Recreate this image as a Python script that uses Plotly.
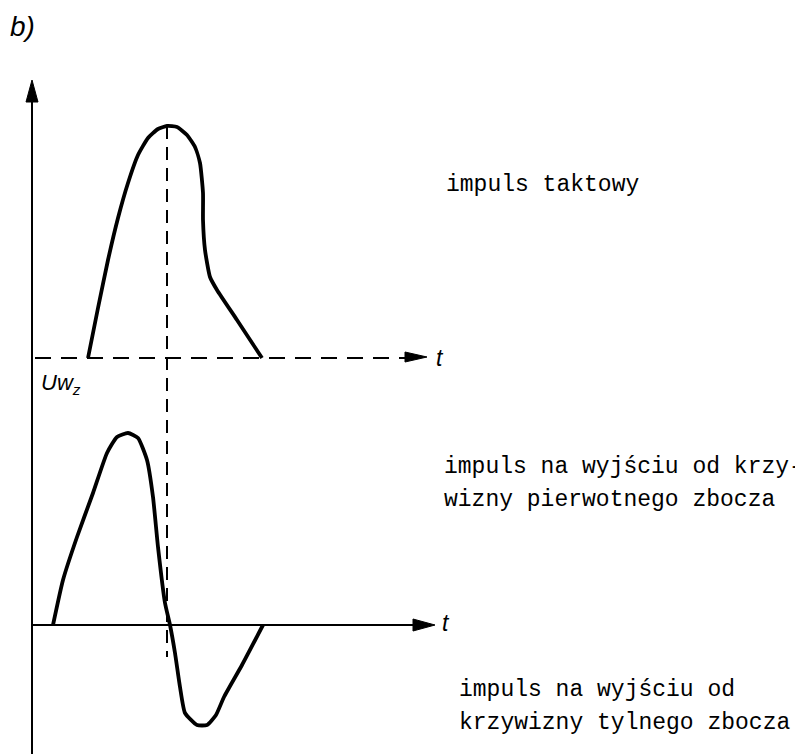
import plotly.graph_objects as go

# ---- data (t in diagram units from the vertical axis, u = amplitude above each baseline) ----
# upper panel: clock pulse ("impuls taktowy"), baseline = U_wz threshold
t_clock = [56, 66, 76, 86, 96, 106, 116, 126, 135, 145, 155, 163, 168, 171, 171, 173, 178, 185, 205, 230]
u_clock = [0, 50, 98, 140, 175, 203, 220, 229, 232, 231, 223, 211, 195, 165, 138, 108, 81, 68, 38, 0]

# lower panel: output pulse (positive lobe from leading edge, negative from trailing edge)
t_out = [21, 31, 45, 61, 75, 85, 96, 106, 115, 121, 126, 133, 138, 143, 148, 153, 165, 175, 184, 192, 210, 231]
u_out = [0, 45, 88, 132, 172, 188, 192, 187, 165, 128, 78, 22, 0, -28, -62, -88, -100, -100, -90, -72, -40, 0]

t_peak = 135          # time of clock-pulse maximum (dashed marker)
t_axis_end = 403      # end of the time axes

labels_right = [
    "impuls taktowy",
    "impuls na wyjściu od krzy-",
    "wizny pierwotnego zbocza",
    "impuls na wyjściu od",
    "krzywizny tylnego zbocza",
]

# ---- figure ----
OFF = 8            # page body margin
W, H = 803 - OFF, 754 - OFF
X0 = 32            # pixel position of vertical axis
Y_UP = 358         # pixel of upper baseline
Y_LO = 625         # pixel of lower baseline

fig = go.Figure()
black = "#000000"

fig.add_trace(go.Scatter(x=t_clock, y=u_clock, mode="lines", yaxis="y",
                         line=dict(color=black, width=3.8, shape="spline", smoothing=0.5),
                         hoverinfo="skip", showlegend=False))
fig.add_trace(go.Scatter(x=t_out, y=u_out, mode="lines", yaxis="y2",
                         line=dict(color=black, width=3.8, shape="spline", smoothing=0.5),
                         hoverinfo="skip", showlegend=False))

shapes = []
# vertical axis
shapes.append(dict(type="line", xref="x", yref="y", x0=0, x1=0, y0=Y_UP - 760, y1=Y_UP - 100,
                   line=dict(color=black, width=2)))
shapes.append(dict(type="path", xref="x", yref="y",
                   path=f"M 0 {Y_UP-80} L -6 {Y_UP-102} L 6 {Y_UP-102} Z",
                   fillcolor=black, line=dict(color=black, width=1)))
# upper dashed baseline with arrow
shapes.append(dict(type="line", xref="x", yref="y", x0=3, x1=t_axis_end - 28, y0=0, y1=0,
                   line=dict(color=black, width=2, dash="16px,10px")))
shapes.append(dict(type="path", xref="x", yref="y",
                   path=f"M {t_axis_end-8} 1 L {t_axis_end-30} 6 L {t_axis_end-30} -4 Z",
                   fillcolor=black, line=dict(color=black, width=1)))
# lower solid baseline with arrow
shapes.append(dict(type="line", xref="x", yref="y2", x0=0, x1=t_axis_end - 20, y0=0, y1=0,
                   line=dict(color=black, width=2)))
shapes.append(dict(type="path", xref="x", yref="y2",
                   path=f"M {t_axis_end} 0 L {t_axis_end-22} 6 L {t_axis_end-22} -6 Z",
                   fillcolor=black, line=dict(color=black, width=1)))
# vertical dashed marker at the clock peak
shapes.append(dict(type="line", xref="x", yref="y", x0=t_peak, x1=t_peak,
                   y0=max(u_clock), y1=Y_UP - 657,
                   line=dict(color=black, width=2, dash="13px,8px")))

annotations = []
mono = "Liberation Mono"
def txt(x, y, s, size=23, family=mono, xanchor="left", xref="x"):
    annotations.append(dict(x=x, y=y, xref=xref, yref="y", text=s, showarrow=False,
                            xanchor=xanchor, yanchor="middle",
                            font=dict(family=family, size=size, color=black)))

txt(444 - X0, Y_UP - 185, labels_right[0])
txt(442 - X0, Y_UP - 467, labels_right[1])
txt(442 - X0, Y_UP - 500, labels_right[2])
txt(457 - X0, Y_UP - 690, labels_right[3])
txt(457 - X0, Y_UP - 723, labels_right[4])

sans = "Liberation Sans"
txt(434 - X0, Y_UP - 358, "<i>t</i>", size=23, family=sans)
txt(440 - X0, Y_UP - 623, "<i>t</i>", size=23, family=sans)
txt(39 - X0, Y_UP - 384, "<i>Uw<sub>z</sub></i>", size=22, family=sans)
txt(0, Y_UP - 26, "<i>b)</i>", size=28, family=sans, xref="paper")

fig.update_layout(
    width=W, height=H,
    margin=dict(l=0, r=0, t=0, b=0),
    paper_bgcolor="white", plot_bgcolor="white",
    xaxis=dict(range=[OFF - X0, OFF - X0 + W], visible=False, fixedrange=True),
    yaxis=dict(range=[Y_UP - OFF - H, Y_UP - OFF], visible=False, domain=[0, 1]),
    yaxis2=dict(range=[Y_LO - OFF - H, Y_LO - OFF], visible=False, overlaying="y"),
    shapes=shapes,
    annotations=annotations,
    showlegend=False,
)

fig.write_html("out.html")
